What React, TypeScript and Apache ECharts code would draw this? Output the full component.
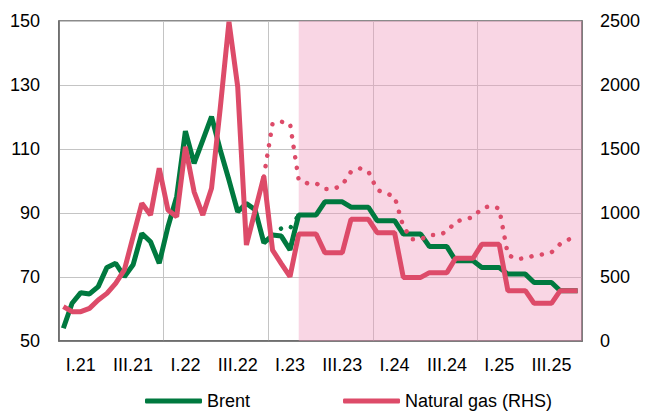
import React, { useEffect, useRef } from 'react';
import * as echarts from 'echarts';

// Half-year tick labels (one label per half year, 2021-2025)
const halfYearLabels = ['I.21', 'III.21', 'I.22', 'III.22', 'I.23', 'III.23', 'I.24', 'III.24', 'I.25', 'III.25'];

// Monthly Brent price, Jan 2021 .. Dec 2025 (left axis)
const brent = [
  54.0, 61.8, 65.1, 64.7, 67.0, 73.0, 74.3, 70.1, 73.8, 83.6, 81.0, 74.3,
  85.7, 95.1, 115.6, 105.5, 112.8, 120.1, 109.7, 100.3, 90.4, 93.0, 91.0, 80.7,
  83.1, 82.8, 78.5, 89.4, 89.4, 89.4, 93.5, 93.5, 93.5, 91.8, 91.8, 91.8,
  87.6, 87.6, 87.6, 83.4, 83.4, 83.4, 79.5, 79.5, 79.5, 75.1, 75.1, 75.1,
  73.0, 73.0, 73.0, 70.9, 70.9, 70.9, 68.3, 68.3, 68.3, 65.7, 65.7, 65.7,
];

// Monthly natural gas price, Jan 2021 .. Dec 2025 (right axis)
const gas = [
  268, 229, 229, 255, 320, 372, 451, 555, 815, 1076, 984, 1349,
  1023, 971, 1518, 1166, 984, 1193, 1820, 2494, 1987, 750, 1018, 1284,
  710, 605, 502, 835, 835, 835, 690, 690, 690, 951, 951, 951,
  846, 846, 846, 497, 497, 497, 534, 534, 534, 646, 646, 646,
  755, 755, 755, 393, 393, 393, 294, 294, 294, 393, 393, 393,
];

// Previous forecasts (dotted), starting at the given month index
const brentPrevStart = 24;
const brentPrev = [83.1, 85.2, 85.2, 89.4];
const gasPrevStart = 23;
const gasPrev = [
  1284, 1700, 1713, 1700, 1258, 1232, 1232, 1187, 1187, 1219, 1323, 1349,
  1323, 1180, 1154, 1128, 893, 794, 794, 828, 828, 854, 932, 951,
  966, 1036, 1055, 1036, 672, 641, 646, 667, 677, 693, 758, 794,
];

// Month index where the forecast shading begins
const forecastStart = 27;

const GREEN = '#00793f';
const RED = '#dd4b69';
const FONT = "'Liberation Sans', Arial, Helvetica, sans-serif";

export default function App() {
  const ref = useRef<HTMLDivElement>(null);

  useEffect(() => {
    document.body.style.margin = '0';
    const chart = echarts.init(ref.current as HTMLDivElement, null, { renderer: 'svg' });
    const months = brent.map((_, i) => String(i));
    const toPts = (arr: number[], start = 0) => arr.map((v, k) => [start + k + 0.5, v]);

    chart.setOption({
      animation: false,
      grid: {
        left: 59, right: 64, top: 21, bottom: 73,
        show: true, borderColor: '#666', borderWidth: 1.5,
      },
      legend: {
        data: ['Brent', 'Natural gas (RHS)'],
        left: 145, top: 392, padding: 0,
        itemWidth: 57, itemHeight: 5, itemGap: 93,
        icon: 'roundRect',
        textStyle: { fontSize: 18, color: '#000', fontFamily: FONT },
      },
      xAxis: [
        {
          type: 'value', min: 0, max: 60, interval: 12,
          axisLabel: { show: false },
          axisTick: { show: false },
          axisLine: { show: true, lineStyle: { color: '#666', width: 1.5 } },
          splitLine: { show: true, lineStyle: { color: '#c4c4c4', width: 1 } },
        },
        {
          type: 'category', data: months, boundaryGap: true, position: 'bottom',
          axisLine: { show: false }, axisTick: { show: false }, splitLine: { show: false },
          axisLabel: {
            interval: (i: number) => i % 6 === 2,
            formatter: (_v: string, i: number) => halfYearLabels[Math.floor(i / 6)],
            color: '#000', fontSize: 18, fontFamily: FONT, margin: 15,
          },
        },
      ],
      yAxis: [
        {
          type: 'value', min: 50, max: 150, interval: 20, position: 'left',
          axisLine: { show: true, lineStyle: { color: '#666', width: 1.5 } },
          axisTick: { show: false },
          splitLine: { show: true, lineStyle: { color: '#c4c4c4', width: 1 } },
          axisLabel: { color: '#000', fontSize: 18, fontFamily: FONT, margin: 19, formatter: (v: number) => String(v) },
        },
        {
          type: 'value', min: 0, max: 2500, interval: 500, position: 'right',
          axisLine: { show: true, lineStyle: { color: '#666', width: 1.5 } },
          axisTick: { show: false },
          splitLine: { show: false },
          axisLabel: { color: '#000', fontSize: 18, fontFamily: FONT, margin: 18, formatter: (v: number) => String(v) },
        },
      ],
      series: [
        {
          name: 'Brent prev', type: 'line', xAxisIndex: 0, yAxisIndex: 0,
          data: toPts(brentPrev, brentPrevStart), symbol: 'none', z: 2,
          lineStyle: { color: GREEN, width: 4.5, type: [0.1, 10.5], cap: 'round' },
          itemStyle: { color: GREEN },
          markArea: {
            silent: true,
            itemStyle: { color: 'rgba(240,152,187,0.4)' },
            data: [[{ xAxis: forecastStart + 0.5 }, { xAxis: 60 }]],
          },
        },
        {
          name: 'Brent', type: 'line', xAxisIndex: 0, yAxisIndex: 0,
          data: toPts(brent), symbol: 'none', z: 3,
          lineStyle: { color: GREEN, width: 5 },
          itemStyle: { color: GREEN },
        },
        {
          name: 'Natural gas (RHS)', type: 'line', xAxisIndex: 0, yAxisIndex: 1,
          data: toPts(gas), symbol: 'none', z: 4,
          lineStyle: { color: RED, width: 5 },
          itemStyle: { color: RED },
        },
        {
          name: 'Gas prev', type: 'line', xAxisIndex: 0, yAxisIndex: 1,
          data: toPts(gasPrev, gasPrevStart), symbol: 'none', z: 5,
          lineStyle: { color: RED, width: 4.5, type: [0.1, 10.5], cap: 'round' },
          itemStyle: { color: RED },
        },
      ],
    });

    return () => chart.dispose();
  }, []);

  return <div ref={ref} style={{ width: 646, height: 414 }} />;
}
